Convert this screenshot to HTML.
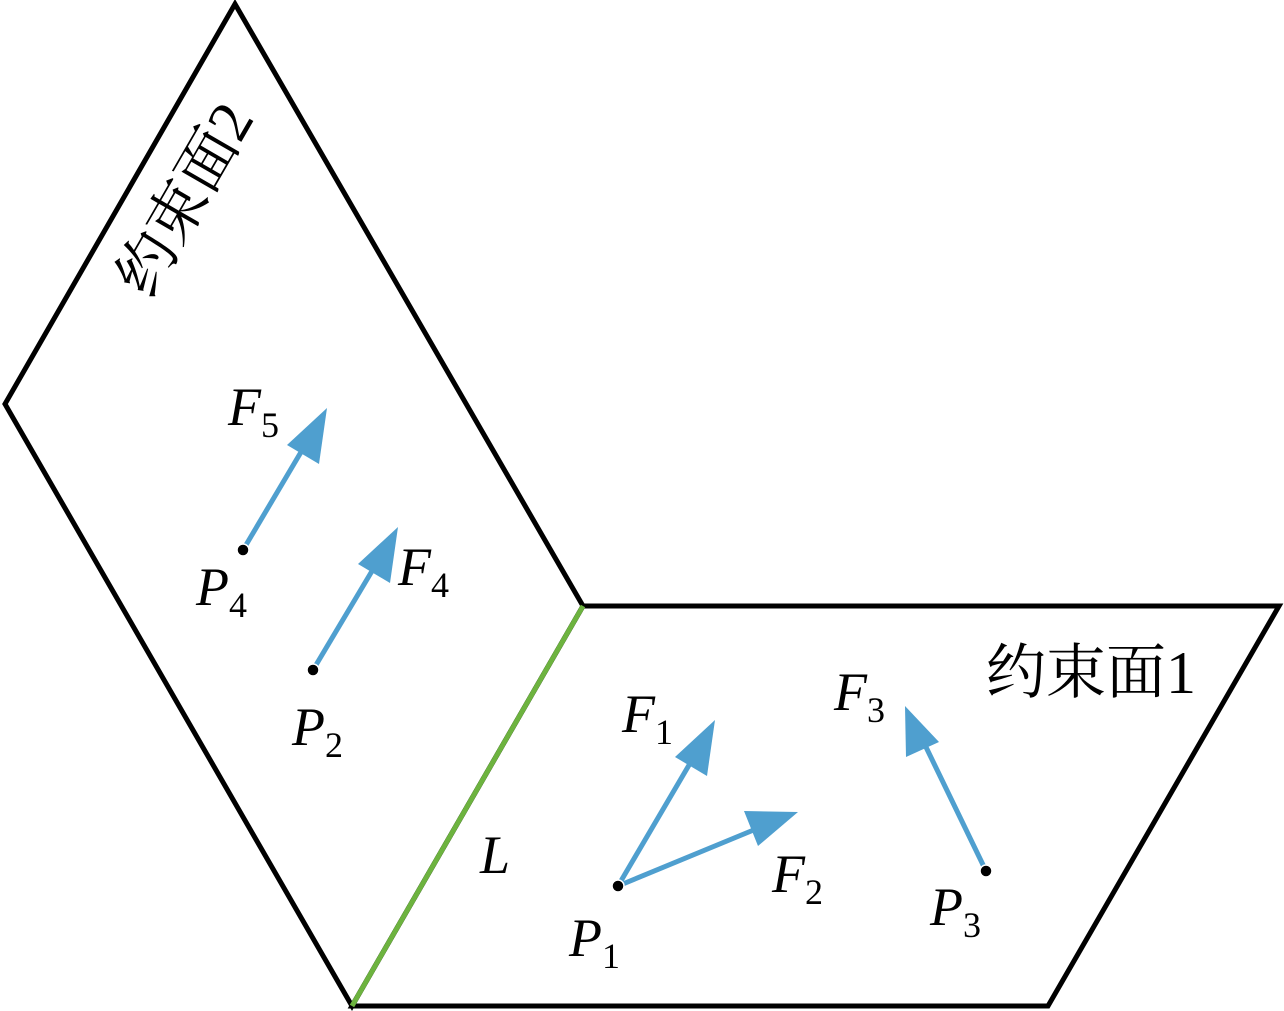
<!DOCTYPE html>
<html><head><meta charset="utf-8"><style>
html,body{margin:0;padding:0;background:#fff;}
svg{display:block;}
.l{font-family:"Liberation Serif",serif;font-style:italic;font-size:54px;fill:#000;}
.s{font-family:"Liberation Serif",serif;font-style:normal;font-size:36px;}
.c{font-family:"Liberation Serif","Noto Serif CJK SC",serif;font-size:60px;fill:#000;}
</style></head><body>
<svg width="1284" height="1011" viewBox="0 0 1284 1011" xmlns="http://www.w3.org/2000/svg">
<g fill="none" stroke="#000" stroke-width="5" stroke-linejoin="miter">
<polygon points="235,4 5,404 352,1006 583,606"/>
<polygon points="583,606 1279,606 1048,1006 352,1006"/>
</g>
<line x1="583" y1="606" x2="352" y2="1006" stroke="#6db33f" stroke-width="5"/>
<g stroke="#4f9fcf" stroke-width="5" fill="#4f9fcf">
<line x1="243" y1="550" x2="304" y2="447"/><polygon points="327,408 319,464 287,445" stroke="none"/>
<line x1="313" y1="670" x2="375" y2="566"/><polygon points="398,527 390,583 358,564" stroke="none"/>
<line x1="618" y1="886" x2="692" y2="760"/><polygon points="715,720 707,776 675,757" stroke="none"/>
<line x1="618" y1="886" x2="756" y2="829"/><polygon points="798,812 758,846 744,811" stroke="none"/>
<line x1="986" y1="871" x2="925" y2="745"/><polygon points="905,706 939,742 906,757" stroke="none"/>
</g>
<g fill="#000" stroke="#fff" stroke-width="1.5">
<circle cx="243" cy="550" r="6"/><circle cx="313" cy="670" r="6"/>
<circle cx="618" cy="886" r="6"/><circle cx="986" cy="871" r="6"/>
</g>
<text class="l" x="228" y="425">F<tspan class="s" dy="12">5</tspan></text>
<text class="l" x="398" y="585">F<tspan class="s" dy="12">4</tspan></text>
<text class="l" x="196" y="605">P<tspan class="s" dy="12">4</tspan></text>
<text class="l" x="292" y="745">P<tspan class="s" dy="12">2</tspan></text>
<text class="l" x="622" y="732">F<tspan class="s" dy="12">1</tspan></text>
<text class="l" x="772" y="892">F<tspan class="s" dy="12">2</tspan></text>
<text class="l" x="834" y="710">F<tspan class="s" dy="12">3</tspan></text>
<text class="l" x="569" y="956">P<tspan class="s" dy="12">1</tspan></text>
<text class="l" x="930" y="925">P<tspan class="s" dy="12">3</tspan></text>
<text class="l" x="480" y="873">L</text>
<text class="c" x="986" y="693">约束面1</text>
<text class="c" transform="translate(150,300) rotate(-60)" x="0" y="0">约束面2</text>
</svg>
</body></html>
